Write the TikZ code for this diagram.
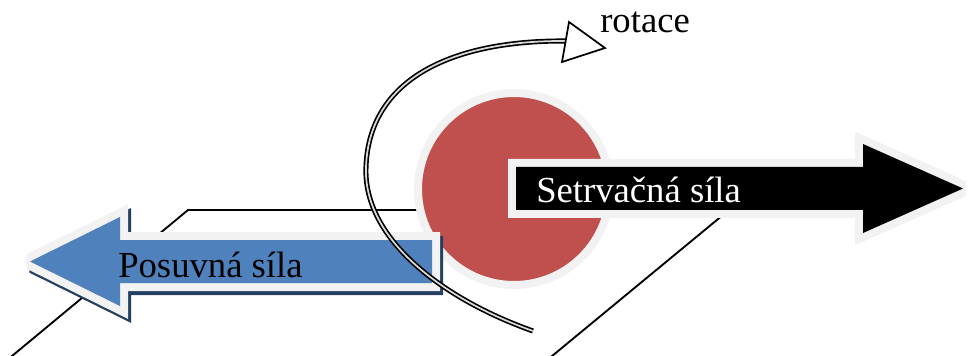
\documentclass[tikz,border=0pt]{standalone}
\usepackage{fontspec}
\setmainfont{Liberation Serif}
\definecolor{massred}{HTML}{C0504D}
\definecolor{pushblue}{HTML}{4F81BD}
\definecolor{pushshadow}{HTML}{243F60}
\definecolor{rim}{HTML}{F2F2F2}
% outlines of the two block arrows
\newcommand\inertiaoutline{(516,167) -- (863,167) -- (863,144) -- (963,188.5)
  -- (863,233) -- (863,210) -- (516,210) -- cycle}
\newcommand\pushoutline{(432,240) -- (120,240) -- (120,217) -- (30,261.5)
  -- (120,306) -- (120,283) -- (432,283) -- cycle}
\begin{document}
\begin{tikzpicture}[x=0.75pt,y=-0.75pt,
  planeline/.style={line width=1.4pt, black},
  rimline/.style={draw=rim, line width=12pt, line join=miter, miter limit=2},
  shadowline/.style={draw=pushshadow, fill=pushshadow, line width=12pt,
    line join=miter, miter limit=2},
  lbltext/.style={inner sep=0pt, anchor=base west, font=\fontsize{27.5}{30}\selectfont},
  rotouter/.style={line width=3.8pt, black},
  rotinner/.style={line width=1.3pt, white!85!black},
]
\useasboundingbox (0,0) rectangle (971,356);
\clip (0,0) rectangle (971,356);

% supporting plane (three visible edges)
\coordinate (pl-bl) at (6,361);
\coordinate (pl-tl) at (188,210);
\coordinate (pl-tr) at (729,210);
\coordinate (pl-br) at (546,361);
\draw[planeline] (pl-bl) -- (pl-tl) -- (pl-tr) -- (pl-br);

% rotating mass
\node[circle, minimum size=144pt, inner sep=0pt, outer sep=0pt,
      fill=massred, draw=rim, line width=6pt] (mass) at (514,189) {};

% inertial force arrow (to the right): rim first, then the body
\path[rimline] \inertiaoutline;
\fill[black] \inertiaoutline;

% driving force arrow (to the left), with drop shadow
\path[shadowline, shift={(3,4)}] \pushoutline;
\path[rimline] \pushoutline;
\fill[pushblue] \pushoutline;

% rotation arrow
\coordinate (rot-start) at (533,331);
\coordinate (rot-left) at (366,167);
\coordinate (rot-end) at (567,41);
\coordinate (head-top) at (569,22);
\coordinate (head-tip) at (605,48);
\coordinate (head-bot) at (562,62);
\draw[rotouter] (rot-start) .. controls (445,300) and (363,240) .. (rot-left)
  .. controls (369,80) and (450,40) .. (rot-end);
\draw[rotinner] (rot-start) .. controls (445,300) and (363,240) .. (rot-left)
  .. controls (369,80) and (450,40) .. (rot-end);
\draw[line width=1.3pt, fill=white, line join=miter]
  (head-top) -- (head-tip) -- (head-bot) -- cycle;

% labels
\node[lbltext, text=white] (inertia) at (536,203) {Setrvačná síla};
\node[lbltext] (push) at (118,277) {Posuvná síla};
\node[lbltext] (rot) at (600,33) {rotace};
\end{tikzpicture}
\end{document}
